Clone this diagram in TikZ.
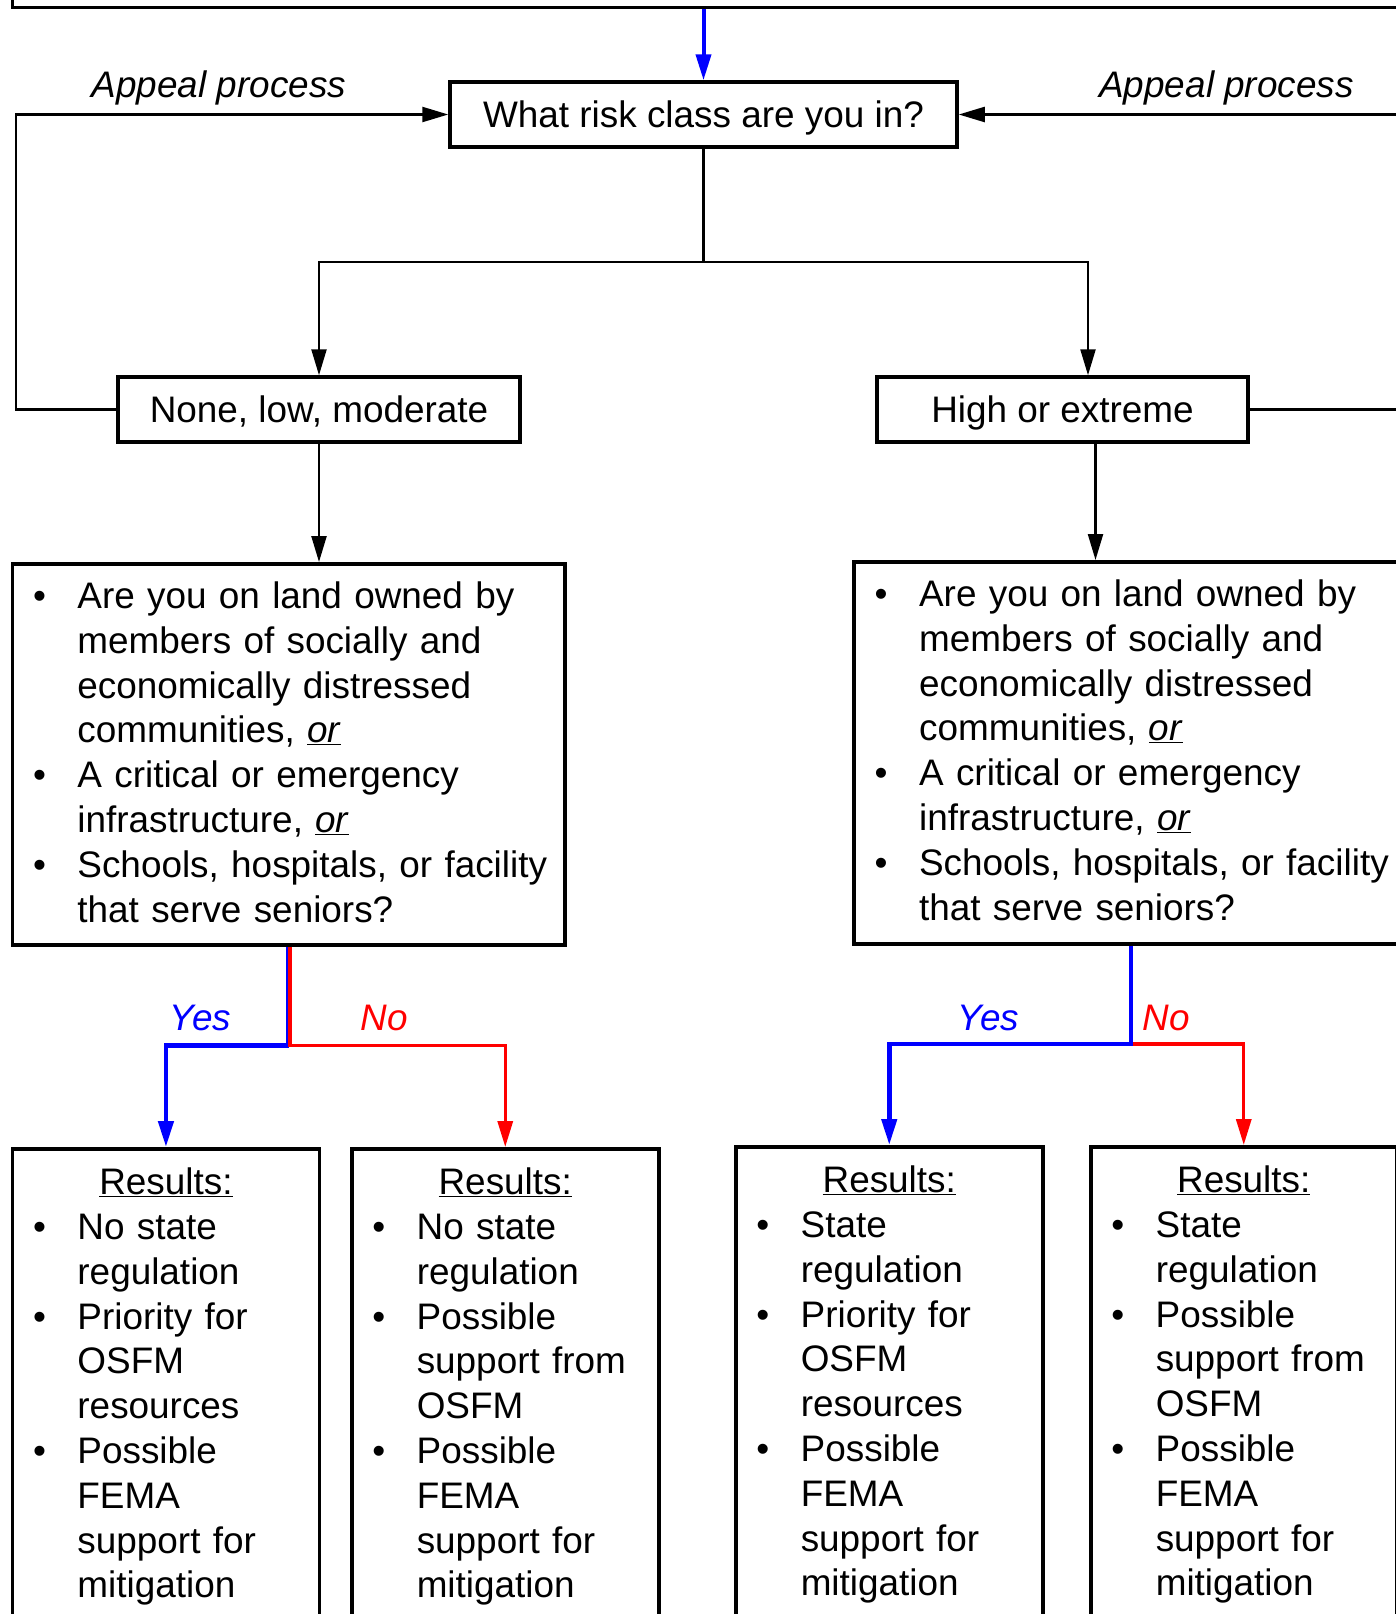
\documentclass[tikz,border=0pt]{standalone}
\usepackage{fontspec}
\setmainfont{Liberation Sans}
\usetikzlibrary{arrows.meta}
\newcommand\bul{\leavevmode\llap{\textbullet\hspace{31.5pt}}}
\newcommand\res{\leavevmode\hspace*{-65pt}\makebox[\linewidth]{\underline{Results:}}}
\newcommand\uor{\underline{\textit{or}}}
\newcommand\indt{\leftskip=65pt \rightskip=0pt plus 1fil \parfillskip=0pt plus 1fil }
\begin{document}
\begin{tikzpicture}[x=1pt, y=-1pt,
	box/.style = {draw, line width=3.5pt, inner sep=0pt, font=\fontsize{36.9}{44.8}\selectfont},
	sbox/.style = {box, minimum height=65pt, text height=26.4pt, text depth=0pt},
	lbox/.style = {box, anchor=north west, align=left, inner ysep=18.3pt, text height=26.4pt},
	rbox/.style = {lbox, inner ysep=19.5pt, text width=307pt, text depth=600pt},
	lab/.style = {anchor=base, inner sep=0pt, font=\fontsize{36.9}{44.8}\selectfont\itshape},
	conn/.style = {line width=2.3pt, -{Triangle[length=26pt, width=15pt]}},
	yes/.style = {conn, blue, line width=4.5pt},
	no/.style = {conn, red, line width=3.3pt}]
	\useasboundingbox (0,0) rectangle (1396,1614);
	% Laatikot
	\node[box, anchor=south west, minimum width=1500pt, minimum height=100pt] (top) at (10.7,9.3) {};
	\node[sbox, minimum width=507pt] (q) at (703.5,114.5) {What risk class are you in?};
	\node[sbox, minimum width=402pt] (low) at (319,409.5) {None, low, moderate};
	\node[sbox, minimum width=371pt] (high) at (1062.5,409.5) {High or extreme};
	\node[lbox, text width=552.3pt, text depth=318pt] (lq) at (10.7,562) {\indt
		\bul Are you on land owned by\\ members of socially and\\ economically distressed\\ communities, \uor\\
		\bul A critical or emergency\\ infrastructure, \uor\\
		\bul Schools, hospitals, or facility\\ that serve seniors?\par};
	\node[lbox, text width=553.2pt, text depth=319pt] (rq) at (852.4,560) {\indt
		\bul Are you on land owned by\\ members of socially and\\ economically distressed\\ communities, \uor\\
		\bul A critical or emergency\\ infrastructure, \uor\\
		\bul Schools, hospitals, or facility\\ that serve seniors?\par};
	\node[rbox] (b1) at (10.7,1147) {\indt \res\\
		\bul No state\\ regulation\\ \bul Priority for\\ OSFM\\ resources\\
		\bul Possible\\ FEMA\\ support for\\ mitigation\par};
	\node[rbox] (b2) at (350,1147) {\indt \res\\
		\bul No state\\ regulation\\ \bul Possible\\ support from\\ OSFM\\
		\bul Possible\\ FEMA\\ support for\\ mitigation\par};
	\node[rbox] (b3) at (734,1145) {\indt \res\\
		\bul State\\ regulation\\ \bul Priority for\\ OSFM\\ resources\\
		\bul Possible\\ FEMA\\ support for\\ mitigation\par};
	\node[rbox, text width=306pt] (b4) at (1089,1145) {\indt \res\\
		\bul State\\ regulation\\ \bul Possible\\ support from\\ OSFM\\
		\bul Possible\\ FEMA\\ support for\\ mitigation\par};
	% Tekstit
	\node[lab] (al) at (219,97.3) {Appeal process};
	\node[lab] (ar) at (1226.5,97.3) {Appeal process};
	\node[lab, blue] (ly) at (200.5,1030.7) {Yes};
	\node[lab, red] (ln) at (384,1030.7) {No};
	\node[lab, blue] (ry) at (988.5,1030.7) {Yes};
	\node[lab, red] (rn) at (1166,1030.7) {No};
	% Nuolet
	\coordinate (spl) at (q.south |- 0,262.3);
	\coordinate (lj) at (lq.south |- 0,1045.7);
	\coordinate (rj) at (rq.south |- 0,1044);
	\draw[yes, line width=4pt] (q.north |- top.south) -- (q.north);
	\draw[conn] (q.south) -- (spl) -| (low.north);
	\draw[conn] (spl) -| ([xshift=25.5pt]high.north);
	\draw[conn] (low.west) -- ++(-100.5,0) |- (q.west);
	\draw[conn] (high.east) -- ++(200,0) |- (q.east);
	\draw[conn] (low.south) -- (low.south |- lq.north);
	\draw[conn] ([xshift=33pt]high.south) -- ([xshift=33pt]high.south |- rq.north);
	\draw[yes, -] (lq.south) -- (lj);
	\draw[yes] (lj) -| (b1.north);
	\draw[no] ([xshift=1.3pt]lq.south) -- ([xshift=1.3pt]lj) -| (b2.north);
	\draw[no] (rj) -| (b4.north);
	\draw[yes] (rq.south) -- (rj) -| (b3.north);
\end{tikzpicture}
\end{document}
